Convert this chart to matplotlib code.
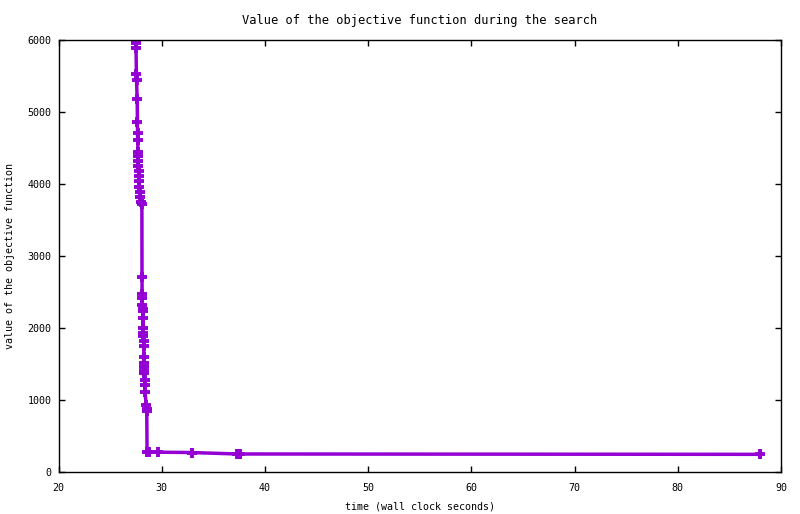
import numpy as np
import matplotlib
matplotlib.use("Agg")
import matplotlib.pyplot as plt

# time (s) and objective value
time_s = [27.50, 27.51, 27.55, 27.56, 27.62, 27.65, 27.66, 27.67, 27.70, 27.72,
          27.73, 27.74, 27.76, 27.78, 27.80, 27.84, 27.88, 27.93, 27.98, 28.08,
          28.09, 28.10, 28.11, 28.13, 28.15, 28.16, 28.18, 28.19, 28.22, 28.23,
          28.25, 28.26, 28.28, 28.29, 28.30, 28.31, 28.32, 28.36, 28.37, 28.38,
          28.50, 28.53, 28.55, 28.58, 28.75, 29.60, 32.90, 37.30, 37.60, 88.00]
objective = [5950, 5880, 5520, 5440, 5180, 4860, 4700, 4610, 4440, 4380,
             4320, 4240, 4170, 4100, 4040, 3950, 3890, 3820, 3750, 3720,
             2710, 2470, 2420, 2320, 2260, 2230, 2130, 2000, 1930, 1880,
             1820, 1750, 1590, 1510, 1460, 1400, 1370, 1280, 1210, 1110,
             930, 880, 850, 280, 280, 275, 270, 250, 250, 245]

xticks = [20, 30, 40, 50, 60, 70, 80, 90]
yticks = [0, 1000, 2000, 3000, 4000, 5000, 6000]

plt.rcParams['font.family'] = ['DejaVu Sans Mono']
plt.rcParams['font.size'] = 7.2

fig = plt.figure(figsize=(8, 5.14), dpi=100)
ax = fig.add_axes([58.5 / 800, 42 / 514, (781 - 58.5) / 800, (472 - 39.5) / 514])

ax.plot(time_s, objective, color='#9400D3', lw=2.5, marker='+', ms=7.5, mew=2.8,
        solid_joinstyle='miter')

ax.set_xlim(20, 90)
ax.set_ylim(0, 6000)
ax.set_xticks(xticks)
ax.set_yticks(yticks)
ax.tick_params(direction='in', length=4, width=1, top=True, right=True, pad=8)
ax.tick_params(axis='y', pad=5)
for s in ax.spines.values():
    s.set_linewidth(1)

ax.set_title('Value of the objective function during the search', pad=11)
ax.set_xlabel('time (wall clock seconds)', labelpad=6)
ax.set_ylabel('value of the objective function', labelpad=9)

fig.savefig('out.png', dpi=100)
